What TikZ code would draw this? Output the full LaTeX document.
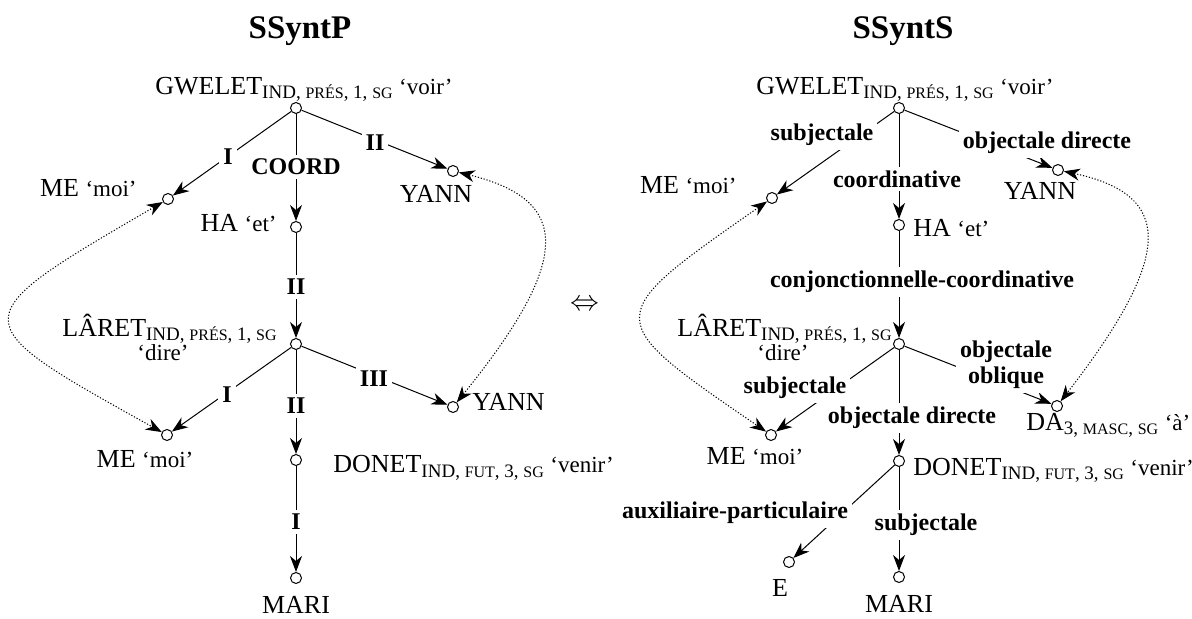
\documentclass[tikz,border=0pt]{standalone}
\usepackage{fontspec}
\setmainfont{Liberation Serif}
\usetikzlibrary{arrows.meta,positioning}

\newcommand\gram[1]{\raisebox{-2pt}{\fontsize{9.5}{10}\selectfont #1}}
\newcommand\smc[1]{{\fontsize{8}{8}\selectfont #1}}
\newcommand\gl[1]{{\fontsize{11.5}{13}\selectfont #1}}

\begin{document}
\begin{tikzpicture}[
    x=0.5pt, y=-0.5pt,
    vertex/.style={circle, draw, fill=white, inner sep=0pt, minimum size=5.5pt, line width=0.5pt},
    word/.style={inner sep=0pt, font=\fontsize{13}{15}\selectfont},
    rel/.style={fill=white, inner sep=2pt, align=center, font=\fontsize{12}{13}\selectfont\bfseries},
    heading/.style={font=\fontsize{16.5}{19}\selectfont\bfseries},
    line/.style={draw, line width=0.5pt},
    dep/.style={line, -{Stealth[length=8pt, width=6pt, inset=2.5pt]}},
    coref/.style={line, dash pattern=on 0.6pt off 0.9pt,
        {Stealth[length=8pt, width=6pt, inset=2.5pt]}-{Stealth[length=8pt, width=6pt, inset=2.5pt]}}
]
    \useasboundingbox (0,0) rectangle (1192,619);

    \node [heading] (titleP) at (300,31) {SSyntP};
    \node [heading] (titleS) at (903,31) {SSyntS};
    \node [word, font=\fontsize{14}{15}\selectfont] (equiv) at (585,305) {$\Leftrightarrow$};

    % SSyntP
    \node [vertex] (pGwe) at (296,108) {};
    \node [vertex] (pMe) at (168,199) {};
    \node [vertex] (pHa) at (296,227) {};
    \node [vertex] (pYann) at (453,171) {};
    \node [vertex] (pLar) at (296,344) {};
    \node [vertex] (pMe2) at (167,435) {};
    \node [vertex] (pYann2) at (453,407) {};
    \node [vertex] (pDon) at (296,460) {};
    \node [vertex] (pMari) at (296,578) {};

    \node [word, anchor=base west] (tpGwe) at (155,95) {GWELET\gram{IND, \smc{PRÉS}, 1, \smc{SG}} \gl{‘voir’}};
    \node [word, anchor=base east] (tpMe) at (137,197) {ME \gl{‘moi’}};
    \node [word, anchor=base east] (tpHa) at (277,232) {HA \gl{‘et’}};
    \node [word, anchor=base] (tpYann) at (436,203) {YANN};
    \node [word, anchor=base west] (tpLar) at (62,337) {LÂRET\gram{IND, \smc{PRÉS}, 1, \smc{SG}}};
    \node [word, anchor=base] (tpLarG) at (163,361) {\gl{‘dire’}};
    \node [word, anchor=base] (tpMe2) at (145,467) {ME \gl{‘moi’}};
    \node [word, anchor=base west] (tpYann2) at (472,410) {YANN};
    \node [word, anchor=base west] (tpDon) at (333,473) {DONET\gram{IND, \smc{FUT}, 3, \smc{SG}} \gl{‘venir’}};
    \node [word, below=6pt of pMari] (tpMari) {MARI};

    \path [dep] (pGwe) -- (pMe);
    \path [dep] (pGwe) -- (pHa);
    \path [dep] (pGwe) -- (pYann);
    \path [dep] (pHa) -- (pLar);
    \path [dep] (pLar) -- (pMe2);
    \path [dep] (pLar) -- (pDon);
    \path [dep] (pLar) -- (pYann2);
    \path [dep] (pDon) -- (pMari);
    \path [coref] (pMe) .. controls (-40,320) and (-40,320) .. (pMe2);
    \path [coref] (pYann) .. controls (572,200) and (572,260) .. (pYann2);

    \node [rel] (lpI1) at (228,157) {I};
    \node [rel] (lpCoord) at (296,167) {COORD};
    \node [rel] (lpII1) at (375,143) {II};
    \node [rel] (lpII2) at (296,287) {II};
    \node [rel] (lpI2) at (227,395) {I};
    \node [rel] (lpII3) at (296,406) {II};
    \node [rel] (lpIII) at (374,379) {III};
    \node [rel] (lpI3) at (296,522) {I};

    % SSyntS
    \node [vertex] (sGwe) at (899,108) {};
    \node [vertex] (sMe) at (772,198) {};
    \node [vertex] (sHa) at (899,225) {};
    \node [vertex] (sYann) at (1058,170) {};
    \node [vertex] (sLar) at (899,344) {};
    \node [vertex] (sMe2) at (771,435) {};
    \node [vertex] (sDa) at (1057,406) {};
    \node [vertex] (sDon) at (899,461) {};
    \node [vertex] (sE) at (789,562) {};
    \node [vertex] (sMari) at (899,577) {};

    \node [word, anchor=base west] (tsGwe) at (756,95) {GWELET\gram{IND, \smc{PRÉS}, 1, \smc{SG}} \gl{‘voir’}};
    \node [word, anchor=base east] (tsMe) at (737,194) {ME \gl{‘moi’}};
    \node [word, anchor=base west] (tsHa) at (913,237) {HA \gl{‘et’}};
    \node [word, anchor=base] (tsYann) at (1040,200) {YANN};
    \node [word, anchor=base west] (tsLar) at (677,337) {LÂRET\gram{IND, \smc{PRÉS}, 1, \smc{SG}}};
    \node [word, anchor=base] (tsLarG) at (783,361) {\gl{‘dire’}};
    \node [word, anchor=base] (tsMe2) at (755,465) {ME \gl{‘moi’}};
    \node [word, anchor=base west] (tsDa) at (1026,430) {DA\gram{3, \smc{MASC}, \smc{SG}} \gl{‘à’}};
    \node [word, anchor=base west] (tsDon) at (913,475) {DONET\gram{IND, \smc{FUT}, 3, \smc{SG}} \gl{‘venir’}};
    \node [word, below=5.5pt of sE, xshift=-4.5pt] (tsE) {E};
    \node [word, below=6pt of sMari] (tsMari) {MARI};

    \path [dep] (sGwe) -- (sMe);
    \path [dep] (sGwe) -- (sHa);
    \path [dep] (sGwe) -- (sYann);
    \path [dep] (sHa) -- (sLar);
    \path [dep] (sLar) -- (sMe2);
    \path [dep] (sLar) -- (sDon);
    \path [dep] (sLar) -- (sDa);
    \path [dep] (sDon) -- (sE);
    \path [dep] (sDon) -- (sMari);
    \path [coref] (sMe) .. controls (600,318) and (600,318) .. (sMe2);
    \path [coref] (sYann) .. controls (1174,195) and (1174,255) .. (sDa);

    \node [rel] (lsSubj1) at (822,135) {subjectale};
    \node [rel] (lsCoord) at (897,179) {coordinative};
    \node [rel] (lsObj1) at (1047,143) {objectale directe};
    \node [rel] (lsConj) at (922,282) {conjonctionnelle-coordinative};
    \node [rel] (lsObl) at (1006,365) {objectale\\oblique};
    \node [rel] (lsSubj2) at (795,388) {subjectale};
    \node [rel] (lsObj2) at (912,418) {objectale directe};
    \node [rel] (lsAux) at (735,513) {auxiliaire-particulaire};
    \node [rel] (lsSubj3) at (926,525) {subjectale};
\end{tikzpicture}
\end{document}
